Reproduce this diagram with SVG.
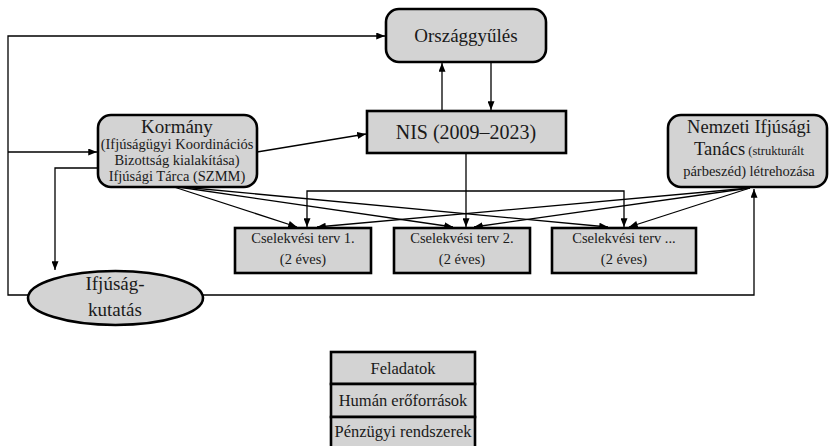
<svg xmlns="http://www.w3.org/2000/svg" width="830" height="446" viewBox="0 0 830 446" font-family="'Liberation Serif', serif">
<style>
.box{fill:#d3d3d3;stroke:#000;stroke-width:2.6}
.ln{fill:none;stroke:#000;stroke-width:1.3}
.t{fill:#1a1a1a;text-anchor:middle}
</style>
<defs>
<marker id="ah" viewBox="0 0 10 8" refX="10" refY="4" markerWidth="9" markerHeight="7" markerUnits="userSpaceOnUse" orient="auto">
<path d="M0,0 L10,4 L0,8 Z" fill="#000"/>
</marker>
</defs>
<rect width="830" height="446" fill="#fff"/>
<g id="connectors" class="ln" marker-end="url(#ah)">
<path d="M28 295 H8 V36 H385"/>
<path d="M8 152 H97"/>
<path d="M98 168 H55 V270"/>
<path d="M203 295 H754 V189"/>
<path d="M442 111 V63"/>
<path d="M491 62 V110"/>
<path d="M257 152 L366 134"/>
<path d="M466 153 V227"/>
<path d="M466 191 H307 V227"/>
<path d="M466 191 H624 V227"/>
<path d="M174 187 L297 227"/>
<path d="M178 187 L453 227"/>
<path d="M182 187 L608 227"/>
<path d="M750 188 L317 227"/>
<path d="M750 188 L474 227"/>
<path d="M750 188 L629 227"/>
</g>
<g id="orszaggyules" class="t">
<rect class="box" x="386" y="9" width="160" height="53" rx="13"/>
<text x="466" y="42" font-size="19">Országgyűlés</text>
</g>
<g id="nis" class="t">
<rect class="box" x="367" y="111" width="199" height="42"/>
<text x="466" y="139" font-size="20">NIS (2009–2023)</text>
</g>
<g id="kormany" class="t">
<rect class="box" x="98" y="115" width="159" height="72" rx="13"/>
<text x="177" y="133" font-size="19">Kormány</text>
<text x="177" y="149" font-size="14.5">(Ifjúságügyi Koordinációs</text>
<text x="177" y="165" font-size="14.5">Bizottság kialakítása)</text>
<text x="177" y="181" font-size="14.5">Ifjúsági Tárca (SZMM)</text>
</g>
<g id="nit" class="t">
<rect class="box" x="668" y="115" width="159" height="72" rx="13"/>
<text x="749" y="133" font-size="18.5">Nemzeti Ifjúsági</text>
<text x="749" y="155"><tspan font-size="18.5">Tanács</tspan><tspan font-size="12.5"> (strukturált</tspan></text>
<text x="749" y="176" font-size="14.5">párbeszéd) létrehozása</text>
</g>
<g id="cs1" class="t">
<rect class="box" x="235" y="228" width="136" height="45"/>
<text x="303" y="243" font-size="14.5">Cselekvési terv 1.</text>
<text x="303" y="264" font-size="14.5">(2 éves)</text>
</g>
<g id="cs2" class="t">
<rect class="box" x="394" y="228" width="136" height="45"/>
<text x="462" y="243" font-size="14.5">Cselekvési terv 2.</text>
<text x="462" y="264" font-size="14.5">(2 éves)</text>
</g>
<g id="cs3" class="t">
<rect class="box" x="552" y="228" width="144" height="45"/>
<text x="624" y="243" font-size="14.5">Cselekvési terv ...</text>
<text x="624" y="264" font-size="14.5">(2 éves)</text>
</g>
<g id="kutatas" class="t">
<ellipse class="box" cx="115.5" cy="298" rx="87.5" ry="27"/>
<text x="115" y="290" font-size="19">Ifjúság-</text>
<text x="115" y="316" font-size="19">kutatás</text>
</g>
<g id="tabla" class="t">
<rect class="box" x="331" y="352" width="144" height="32"/>
<rect class="box" x="331" y="384" width="144" height="33"/>
<rect class="box" x="331" y="417" width="144" height="32"/>
<text x="403" y="374" font-size="16.5">Feladatok</text>
<text x="403" y="406" font-size="16.5">Humán erőforrások</text>
<text x="403" y="437" font-size="16.5">Pénzügyi rendszerek</text>
</g>
</svg>
